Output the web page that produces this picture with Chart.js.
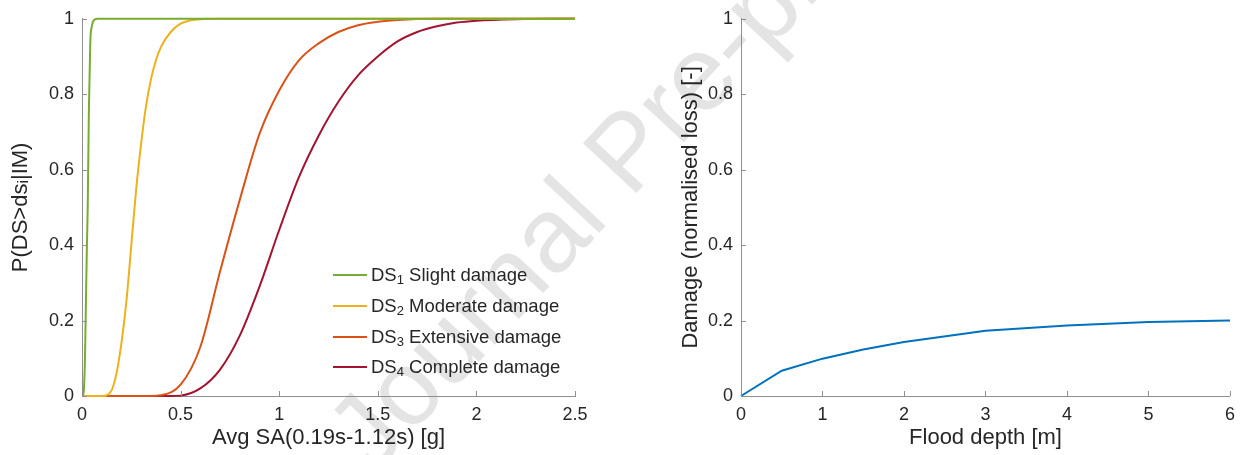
<!DOCTYPE html>
<html>
<head>
<meta charset="utf-8">
<script src="https://cdn.jsdelivr.net/npm/chart.js@4.4.1/dist/chart.umd.min.js"></script>
<style>
    body { margin: 0; background: #fff; width: 1243px; height: 455px; overflow: hidden; position: relative; font-family: "Liberation Sans", Arial, sans-serif; }
    #watermark { position: absolute; left: 385px; top: 380px; font-size: 106px; line-height: 1; color: #e4e4e4; white-space: nowrap; transform-origin: left bottom; transform: rotate(-47deg); z-index: 0; }
    .plot { position: absolute; top: 0; z-index: 1; }
    #fragility-legend { position: absolute; left: 333px; top: 260px; z-index: 2; color: #262626; font-size: 18.5px; }
    .leg-row { height: 30.7px; display: flex; align-items: center; }
    .leg-line { width: 34px; height: 2px; margin-right: 4px; }
    .leg-row sub { font-size: 13px; position: relative; top: 5px; line-height: 0; }
</style>
</head>
<body>
<div id="watermark">Journal Pre-proof</div>
<canvas id="fragilityChart" class="plot" width="600" height="455" style="left:0"></canvas>
<canvas id="floodChart" class="plot" width="583" height="455" style="left:660px"></canvas>
<div id="fragility-legend"></div>

<script>
// ---------------- Datos ----------------

const dsNames = ['Slight damage', 'Moderate damage', 'Extensive damage', 'Complete damage'];
const dsColors = ['#77AC30', '#EDB120', '#D95319', '#A2142F'];

// Avg SA [g] y probabilidad de excedencia
const ds1Sa = [0, 0.005, 0.01, 0.015, 0.02, 0.025, 0.029, 0.035, 0.042, 0.05, 0.064, 0.08, 2.5];
const ds1P  = [0, 0, 0.02, 0.1, 0.25, 0.4, 0.5, 0.76, 0.937, 0.98, 0.998, 1, 1];

const ds2Sa = [0, 0.1, 0.125, 0.15, 0.175, 0.2, 0.225, 0.25, 0.275, 0.3, 0.325, 0.35, 0.375, 0.4, 0.45, 0.5, 0.55, 0.6, 0.7, 2.5];
const ds2P  = [0, 0, 0.002, 0.015, 0.06, 0.14, 0.25, 0.4, 0.55, 0.67, 0.77, 0.84, 0.89, 0.925, 0.965, 0.987, 0.996, 0.999, 1, 1];

const ds3Sa = [0, 0.35, 0.4, 0.5, 0.6, 0.7, 0.8, 0.9, 1.0, 1.1, 1.2, 1.3, 1.4, 1.5, 1.6, 1.8, 2.5];
const ds3P  = [0, 0, 0.002, 0.03, 0.13, 0.33, 0.52, 0.695, 0.81, 0.89, 0.935, 0.965, 0.983, 0.992, 0.997, 1, 1];

const ds4Sa = [0, 0.45, 0.5, 0.6, 0.7, 0.8, 0.9, 1.0, 1.1, 1.2, 1.3, 1.4, 1.5, 1.6, 1.7, 1.8, 1.9, 2.0, 2.2, 2.4, 2.5];
const ds4P  = [0, 0, 0.001, 0.02, 0.07, 0.16, 0.29, 0.44, 0.58, 0.69, 0.78, 0.85, 0.9, 0.94, 0.965, 0.98, 0.99, 0.995, 0.999, 1, 1];

// Profundidad de inundación [m] y daño normalizado
const floodDepth  = [0, 0.5, 1, 1.5, 2, 3, 4, 5, 6];
const floodDamage = [0, 0.067, 0.099, 0.123, 0.143, 0.173, 0.187, 0.196, 0.2];

// ---------------- Estilo común ----------------

const TEXT = '#262626';
const AXIS = '#8f8f8f';
const tickFont = { family: "'Liberation Sans', Arial, sans-serif", size: 18 };
const titleFont = { family: "'Liberation Sans', Arial, sans-serif", size: 22 };

// ticks hacia dentro, estilo MATLAB
const innerTicks = {
    id: 'innerTicks',
    afterDraw(chart) {
        const { ctx, chartArea, scales } = chart;
        ctx.save();
        ctx.strokeStyle = AXIS;
        ctx.lineWidth = 1;
        scales.x.ticks.forEach(t => {
            const px = Math.round(scales.x.getPixelForValue(t.value)) + 0.5;
            ctx.beginPath();
            ctx.moveTo(px, chartArea.bottom);
            ctx.lineTo(px, chartArea.bottom - 5);
            ctx.stroke();
        });
        scales.y.ticks.forEach(t => {
            const py = Math.round(scales.y.getPixelForValue(t.value)) + 0.5;
            ctx.beginPath();
            ctx.moveTo(chartArea.left, py);
            ctx.lineTo(chartArea.left + 5, py);
            ctx.stroke();
        });
        ctx.restore();
    }
};

function toPoints(xs, ys) {
    return xs.map((x, i) => ({ x, y: ys[i] }));
}

// etiquetas sin ceros sobrantes: 1 en vez de 1.0
const plainLabel = v => String(Math.round(v * 100) / 100);

function axes({ xMax, xStep, xTitle, yTitle, yWidth, yTitlePad }) {
    return {
        x: {
            type: 'linear', min: 0, max: xMax,
            afterFit: s => { s.height = 59; },
            grid: { display: false, drawTicks: false },
            border: { display: true, color: AXIS, width: 1 },
            ticks: { stepSize: xStep, color: TEXT, font: tickFont, padding: 8, maxRotation: 0, callback: plainLabel },
            title: { display: true, text: xTitle, color: TEXT, font: titleFont, padding: { top: 0, bottom: 4 } }
        },
        y: {
            type: 'linear', min: 0, max: 1,
            afterFit: s => { s.width = yWidth; },
            grid: { display: false, drawTicks: false },
            border: { display: true, color: AXIS, width: 1 },
            ticks: { stepSize: 0.2, color: TEXT, font: tickFont, padding: 8, callback: plainLabel },
            title: { display: true, text: yTitle, color: TEXT, font: titleFont, padding: yTitlePad }
        }
    };
}

// ---------------- Curvas de fragilidad ----------------

const dsData = [[ds1Sa, ds1P], [ds2Sa, ds2P], [ds3Sa, ds3P], [ds4Sa, ds4P]];

new Chart(document.getElementById('fragilityChart'), {
    type: 'line',
    data: {
        datasets: dsData.map(([xs, ys], i) => ({
            label: 'DS' + (i + 1) + ' ' + dsNames[i],
            data: toPoints(xs, ys),
            borderColor: dsColors[i],
            borderWidth: 2,
            pointRadius: 0,
            cubicInterpolationMode: 'monotone',
            clip: 4
        }))
    },
    options: {
        responsive: false,
        animation: false,
        devicePixelRatio: 1,
        layout: { padding: { top: 14, right: 25, left: 0, bottom: 0 } },
        plugins: { legend: { display: false }, tooltip: { enabled: false } },
        scales: axes({
            xMax: 2.5, xStep: 0.5,
            xTitle: 'Avg SA(0.19s-1.12s) [g]',
            yTitle: 'P(DS>dsᵢ|IM)',
            yWidth: 82, yTitlePad: { top: 8, bottom: 0 }
        })
    },
    plugins: [innerTicks]
});

// leyenda HTML dentro del área del gráfico
const legendEl = document.getElementById('fragility-legend');
legendEl.innerHTML = dsNames.map((name, i) =>
    `<div class="leg-row"><span class="leg-line" style="background:${dsColors[i]}"></span>DS<sub>${i + 1}</sub>&nbsp;${name}</div>`
).join('');

// ---------------- Curva de daño por inundación ----------------

new Chart(document.getElementById('floodChart'), {
    type: 'line',
    data: {
        datasets: [{
            label: 'Damage',
            data: toPoints(floodDepth, floodDamage),
            borderColor: '#0072BD',
            borderWidth: 2,
            pointRadius: 0,
            tension: 0,
            clip: 4
        }]
    },
    options: {
        responsive: false,
        animation: false,
        devicePixelRatio: 1,
        layout: { padding: { top: 13, right: 9, left: 0, bottom: 0 } },
        plugins: { legend: { display: false }, tooltip: { enabled: false } },
        scales: axes({
            xMax: 6, xStep: 1,
            xTitle: 'Flood depth [m]',
            yTitle: 'Damage (normalised loss) [-]',
            yWidth: 81, yTitlePad: { top: 18, bottom: 0 }
        })
    },
    plugins: [innerTicks]
});
</script>
</body>
</html>
